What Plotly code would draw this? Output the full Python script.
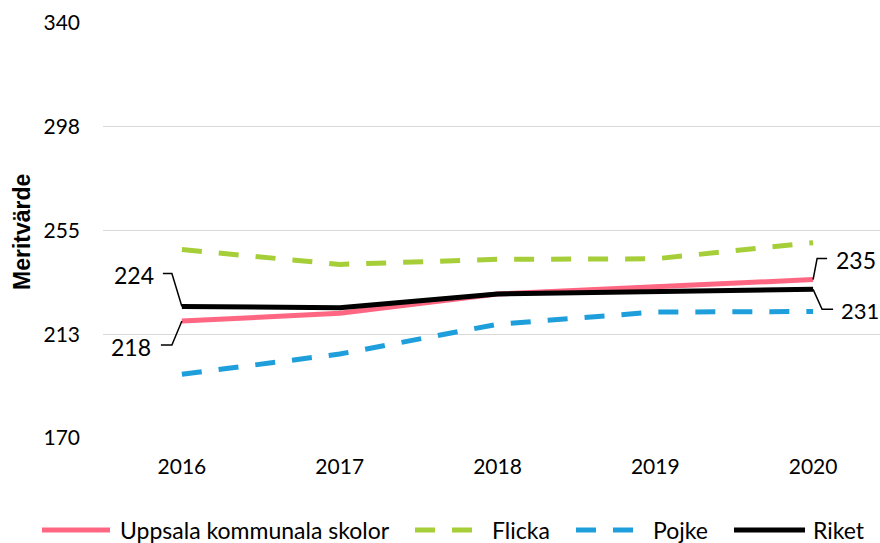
import plotly.graph_objects as go

years = ["2016", "2017", "2018", "2019", "2020"]
uppsala = [217.9, 221.1, 229.0, 231.9, 234.9]
flicka = [247.2, 241.1, 243.2, 243.4, 250.0]
pojke = [196.1, 204.4, 216.6, 221.6, 221.8]
riket = [223.9, 223.4, 229.0, 230.1, 230.9]

y_ticks = [170, 212.5, 255, 297.5, 340]
y_tick_text = ["170", "213", "255", "298", "340"]

FONT = "Lato, Carlito, Calibri, sans-serif"
TITLE_FONT = "Arial, 'Liberation Sans', sans-serif"
PINK = "#FF6681"
GREEN = "#A6CE39"
BLUE = "#1E9FDB"
BLACK = "#000000"
DASH = "20px,17px"

fig = go.Figure()
fig.add_trace(go.Scatter(x=years, y=uppsala, mode="lines", name="Uppsala kommunala skolor",
                         line=dict(color=PINK, width=5)))
fig.add_trace(go.Scatter(x=years, y=flicka, mode="lines", name="Flicka",
                         line=dict(color=GREEN, width=5, dash=DASH)))
fig.add_trace(go.Scatter(x=years, y=pojke, mode="lines", name="Pojke",
                         line=dict(color=BLUE, width=5, dash=DASH)))
fig.add_trace(go.Scatter(x=years, y=riket, mode="lines", name="Riket",
                         line=dict(color=BLACK, width=5)))

FW, FH = 880, 543
L, T, W, H = 103, 23, 777, 415


def px(xp):
    return (xp - L) / W


def py(yp):
    return (T + H - yp) / H


# data labels with elbow leaders
labels = [
    (0, riket[0], f"{riket[0]:.0f}", -48, 31, "M0,0 L-10,33 L-19,33", 23),
    (0, uppsala[0], f"{uppsala[0]:.0f}", -51, -26, "M0,0 L-10,-24 L-21,-24", 23),
    (4, uppsala[4], f"{uppsala[4]:.0f}", 43, 20, "M0,0 L4,21 L14,21", 23),
    (4, riket[4], f"{riket[4]:.0f}", 47, -21, "M0,0 L9,-20 L20,-20", 22),
]
for xi, yv, txt, xs, ys, path, fs in labels:
    fig.add_shape(type="path", xref="x", yref="y", xsizemode="pixel", ysizemode="pixel",
                  xanchor=xi, yanchor=yv, path=path,
                  line=dict(color=BLACK, width=1.5))
    fig.add_annotation(xref="x", yref="y", x=xi, y=yv, text=txt, showarrow=False,
                       xshift=xs, yshift=ys,
                       font=dict(family=FONT, size=fs, color=BLACK))

# custom legend
leg_y = py(530)
legend_items = [
    (42, 110, 118, "Uppsala kommunala skolor", PINK, "solid"),
    (415, 472, 490, "Flicka", GREEN, DASH),
    (576, 633, 651, "Pojke", BLUE, DASH),
    (734, 805, 811, "Riket", BLACK, "solid"),
]
for x0, x1, xt, name, col, dash in legend_items:
    fig.add_shape(type="line", xref="paper", yref="paper", x0=px(x0), x1=px(x1),
                  y0=leg_y, y1=leg_y, line=dict(color=col, width=5, dash=dash))
    fig.add_annotation(xref="paper", yref="paper", x=px(xt), y=leg_y, text=name,
                       showarrow=False, xanchor="left", yanchor="middle",
                       font=dict(family=FONT, size=23, color=BLACK))

fig.add_annotation(xref="paper", yref="paper", x=px(22), y=py(232), text="<b>Meritvärde</b>",
                   textangle=-90, showarrow=False, xanchor="center", yanchor="middle",
                   font=dict(family=TITLE_FONT, size=23, color=BLACK))

fig.update_layout(
    width=FW, height=FH,
    margin=dict(l=L, r=0, t=T, b=FH - T - H, pad=0),
    paper_bgcolor="white", plot_bgcolor="white",
    showlegend=False,
    font=dict(family=FONT, size=21, color=BLACK),
    xaxis=dict(type="category", range=[-0.5, 4.424], showgrid=False, showline=False,
               ticks="", ticklabelstandoff=14, tickfont=dict(size=21)),
    yaxis=dict(range=[170, 340], tickvals=y_ticks, ticktext=y_tick_text,
               showgrid=True, gridcolor="#D9D9D9", gridwidth=1.3, zeroline=False,
               showline=False, ticks="", ticklabelstandoff=22, tickfont=dict(size=21)),
)

fig.write_html(
    "out.html",
    config={"displayModeBar": False},
    post_script="document.body.style.margin='0';document.body.style.overflow='hidden';",
)
